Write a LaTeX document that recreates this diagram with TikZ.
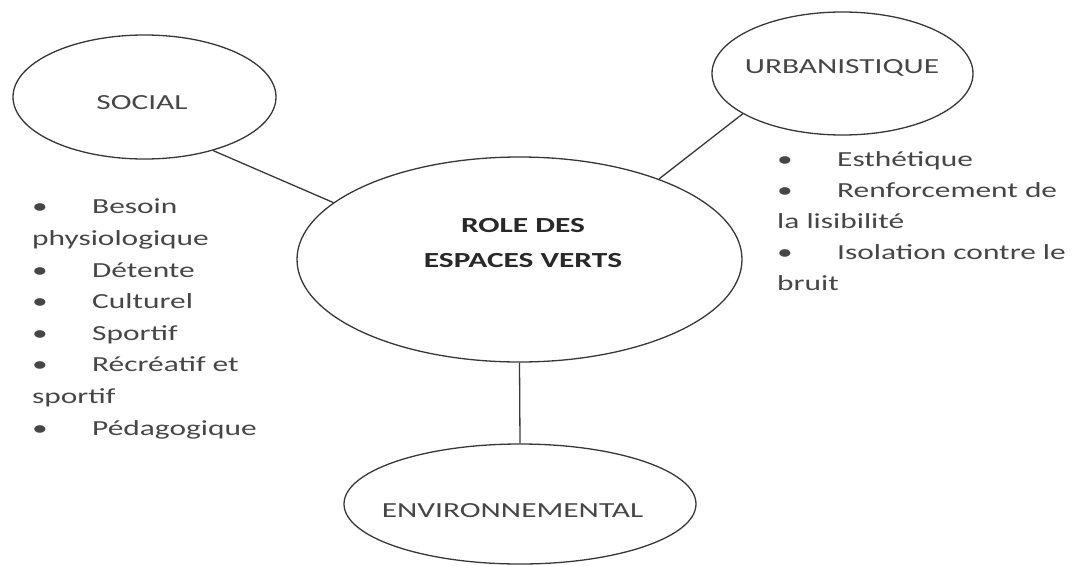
\documentclass[tikz,border=0pt]{standalone}
\usepackage{fontspec}
\setmainfont{Carlito}[FakeStretch=1.46]
\usepackage{tikz}
\usetikzlibrary{shapes.geometric}
\definecolor{ink}{RGB}{55,55,55}
\definecolor{txt}{RGB}{70,70,70}
\definecolor{head}{RGB}{40,40,40}

\newcommand{\itm}{\makebox[60pt][l]{\textbullet}}

\begin{document}
\begin{tikzpicture}[x=1pt, y=-1pt,
    bubble/.style={ellipse, draw=ink, line width=1.3pt, inner sep=0pt},
    word/.style={text=txt, inner sep=0pt, font=\fontsize{21.5}{26}\selectfont},
    list/.style={word, align=left, anchor=base west}]
    \useasboundingbox (0,0) rectangle (1078,565);

    \node (social) [bubble, minimum width=263pt, minimum height=124pt] at (144.5,97) {};
    \node (urban) [bubble, minimum width=261pt, minimum height=123pt] at (842.5,73.5) {};
    \node (role) [bubble, minimum width=445pt, minimum height=205pt] at (519.5,259.5) {};
    \node (env) [bubble, minimum width=352pt, minimum height=120pt] at (520,504) {};

    % base of a multi-line node = its last line
    \node (socialtxt) [word, anchor=base] at (142,109.5) {SOCIAL};
    \node (urbantxt) [word, anchor=base] at (842,73) {URBANISTIQUE};
    \node (roletxt) [word, anchor=base, align=center, text=head,
        font=\fontsize{21.5}{35}\selectfont\bfseries] at (523,267) {ROLE DES\\ESPACES VERTS};
    \node (envtxt) [word, anchor=base] at (512.5,517) {ENVIRONNEMENTAL};

    \node (sociallist) [list, font=\fontsize{21.5}{31.6}\selectfont] at (32,435) {%
        \itm Besoin\\physiologique\\\itm D\'etente\\\itm Culturel\\\itm Sportif\\%
        \itm R\'ecr\'eatif et\\sportif\\\itm P\'edagogique};
    \node (urbanlist) [list, font=\fontsize{21.5}{30.8}\selectfont] at (777,290) {%
        \itm Esth\'etique\\\itm Renforcement de\\la lisibilit\'e\\%
        \itm Isolation contre le\\bruit};

    \draw[ink, line width=1.3pt] (social.-38) -- (role.163);
    \draw[ink, line width=1.3pt] (urban.202) -- (role.30);
    \draw[ink, line width=1.3pt] (role.south) -- (env.north);
\end{tikzpicture}
\end{document}
